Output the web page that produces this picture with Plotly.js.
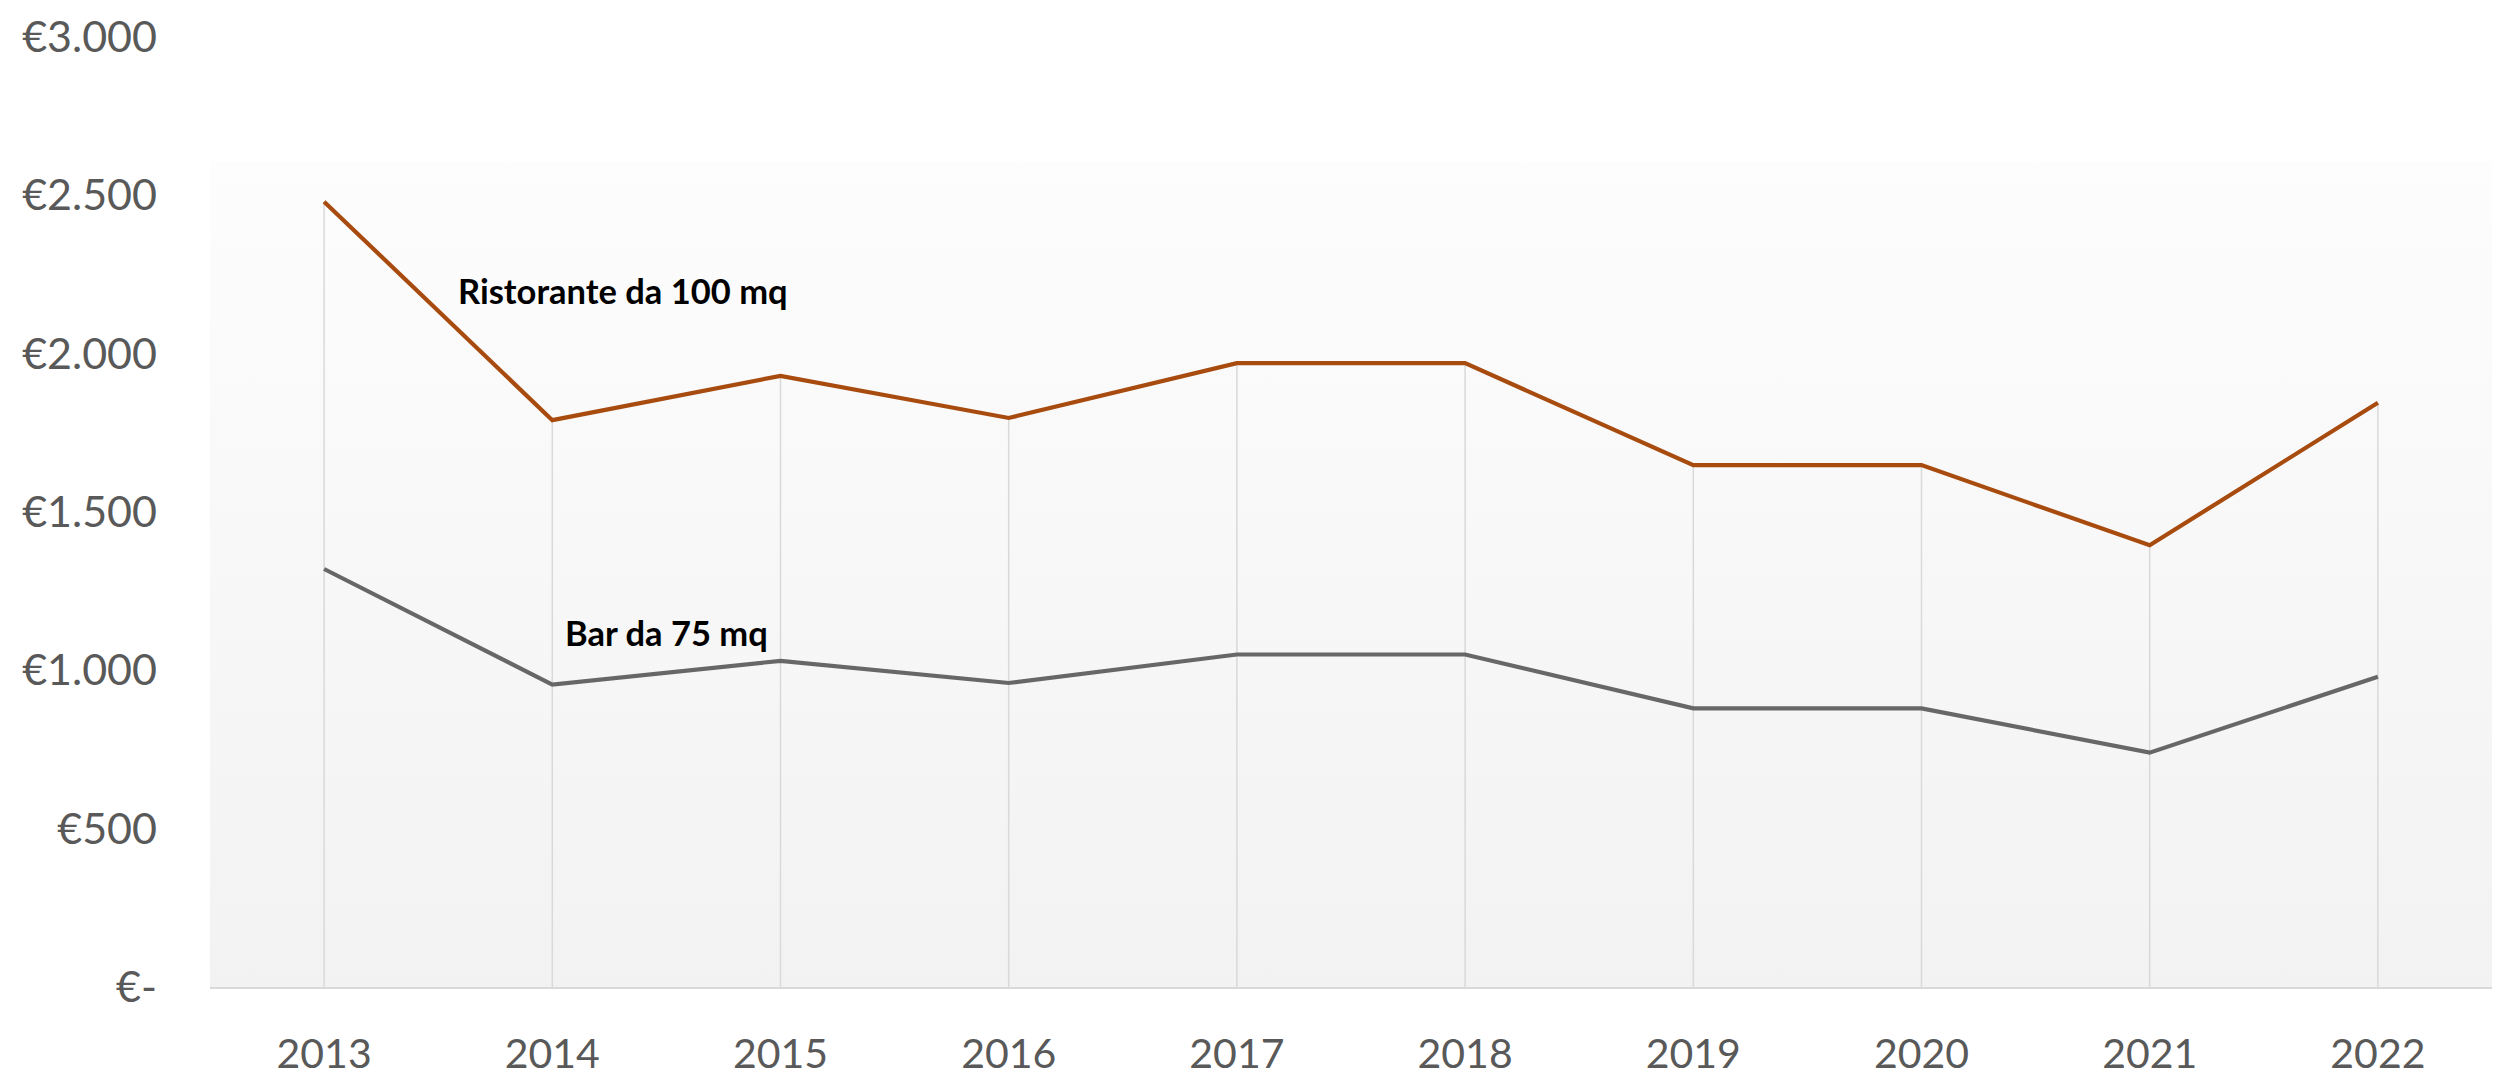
<!DOCTYPE html>
<html>
<head>
<meta charset="utf-8">
<script src="https://cdn.plot.ly/plotly-3.0.1.min.js"></script>
<style>
  html, body { margin: 0; padding: 0; background: #ffffff; }
  #wrap { position: relative; width: 2509px; height: 1081px; }
  #bg { position: absolute; left: 210px; top: 161px; width: 2282px; height: 826px;
        background: linear-gradient(to bottom, #fdfdfd 0%, #f2f2f2 100%); }
  #chart { position: absolute; left: 0; top: 0; width: 2509px; height: 1081px; }
</style>
</head>
<body>
<div id="wrap">
  <div id="bg"></div>
  <div id="chart"></div>
</div>
<script>
// ---- data ----
const years = ['2013','2014','2015','2016','2017','2018','2019','2020','2021','2022'];
const ristorante = [2480, 1790, 1930, 1797, 1970, 1970, 1648, 1648, 1395, 1845];
const bar = [1320, 955, 1030, 960, 1050, 1050, 880, 880, 740, 980];
const yTickVals = [0, 500, 1000, 1500, 2000, 2500, 3000];
const yTickText = ['€-', '€500', '€1.000', '€1.500', '€2.000', '€2.500', '€3.000'];
const seriesNames = ['Ristorante da 100 mq', 'Bar da 75 mq'];

// drop lines from axis to the highest point of each category
const dropX = [], dropY = [];
years.forEach((yr, i) => {
  dropX.push(yr, yr, null);
  dropY.push(0, Math.max(ristorante[i], bar[i]), null);
});

const traces = [
  { x: dropX, y: dropY, mode: 'lines', type: 'scatter',
    line: { color: '#d9d9d9', width: 1.5 }, hoverinfo: 'skip', showlegend: false },
  { x: years, y: ristorante, name: seriesNames[0], mode: 'lines', type: 'scatter',
    line: { color: '#a84b0f', width: 4.2 } },
  { x: years, y: bar, name: seriesNames[1], mode: 'lines', type: 'scatter',
    line: { color: '#676767', width: 4.2 } }
];

const layout = {
  width: 2509, height: 1081,
  margin: { l: 210, r: 17, t: 37, b: 94 },
  paper_bgcolor: 'rgba(0,0,0,0)',
  plot_bgcolor: 'rgba(0,0,0,0)',
  showlegend: false,
  font: { family: 'Lato, sans-serif', color: '#595959', size: 41 },
  xaxis: {
    type: 'category', range: [-0.5, 9.5],
    showgrid: false, zeroline: false,
    showline: true, linecolor: '#d9d9d9', linewidth: 2,
    ticks: '', ticklabelstandoff: 30,
    tickfont: { family: 'Lato, sans-serif', size: 41, color: '#595959' }
  },
  yaxis: {
    range: [0, 3000],
    tickvals: yTickVals, ticktext: yTickText,
    showgrid: false, zeroline: false, showline: false,
    ticks: '', ticklabelstandoff: 52,
    tickfont: { family: 'Lato, sans-serif', size: 43, color: '#595959' }
  },
  annotations: [
    { x: 1.31, y: 2201, xref: 'x', yref: 'y', text: '<b>' + seriesNames[0] + '</b>',
      showarrow: false, font: { family: 'Lato, sans-serif', size: 34.5, color: '#000000' } },
    { x: 1.50, y: 1121, xref: 'x', yref: 'y', text: '<b>' + seriesNames[1] + '</b>',
      showarrow: false, font: { family: 'Lato, sans-serif', size: 34.5, color: '#000000' } }
  ]
};

Plotly.newPlot('chart', traces, layout, { displayModeBar: false, staticPlot: true });
</script>
</body>
</html>
